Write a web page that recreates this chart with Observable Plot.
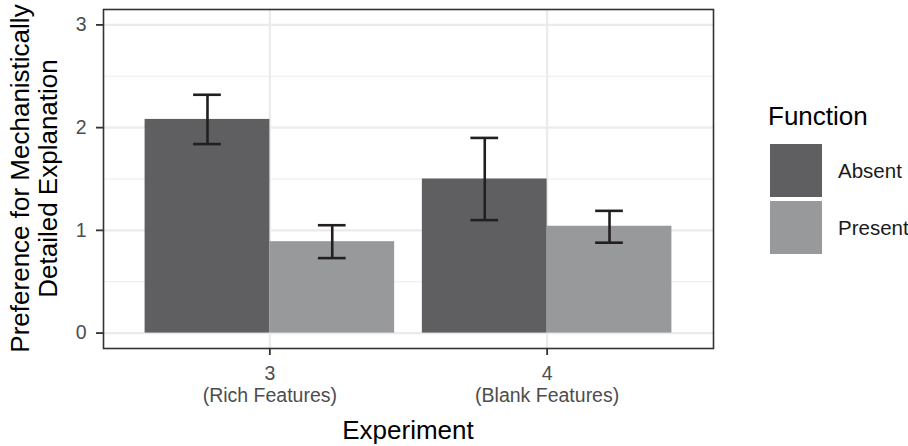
<!DOCTYPE html>
<html><head><meta charset="utf-8">
<script src="https://cdn.jsdelivr.net/npm/d3@7"></script>
<script src="https://cdn.jsdelivr.net/npm/@observablehq/plot@0.6"></script>
<style>body{margin:0;background:#fff} svg{display:block}</style>
</head><body><div id="chart"></div>
<script>
const experiments = [3, 3, 4, 4];
const functions = ["Absent", "Present", "Absent", "Present"];
const means = [2.08, 0.89, 1.50, 1.04];
const lower = [1.84, 0.73, 1.10, 0.88];
const upper = [2.32, 1.05, 1.90, 1.19];
const xTicks = [3, 4];
const xTickLabels = ["3\n(Rich Features)", "4\n(Blank Features)"];
const yTicks = [0, 1, 2, 3];
const yMinor = [0.5, 1.5, 2.5];
const funcLevels = ["Absent", "Present"];
const funcColors = ["#5f5f61", "#98999b"];
const xTitle = "Experiment";
const yTitleLines = ["Preference for Mechanistically", "Detailed Explanation"];
const legendTitle = "Function";

const half = 0.45, cap = 0.05;
const data = experiments.map((e, i) => {
  const x1 = e + (functions[i] === "Absent" ? -half : 0);
  return {exp: e, fn: functions[i], mean: means[i], lo: lower[i], hi: upper[i],
    x1, x2: x1 + half, xc: x1 + half / 2, c1: x1 + half / 2 - cap, c2: x1 + half / 2 + cap};
});
const font = "'Liberation Sans', Arial, Helvetica, sans-serif";
const ebColor = "#231f20";

const plot = Plot.plot({
  width: 908, height: 446,
  marginLeft: 103, marginRight: 195, marginTop: 9, marginBottom: 98,
  style: {fontFamily: font, background: "#fff", overflow: "visible"},
  x: {type: "linear", domain: [2.4, 4.6]},
  y: {domain: [-0.15, 3.15]},
  color: {domain: funcLevels, range: funcColors},
  marks: [
    Plot.gridY(yMinor, {stroke: "#ebebeb", strokeOpacity: 1, strokeWidth: 1.1}),
    Plot.gridY(yTicks, {stroke: "#ebebeb", strokeOpacity: 1, strokeWidth: 2.2}),
    Plot.gridX(xTicks, {stroke: "#ebebeb", strokeOpacity: 1, strokeWidth: 2.2}),
    Plot.rectY(data, {x1: "x1", x2: "x2", y1: 0, y2: "mean", fill: "fn"}),
    Plot.ruleX(data, {x: "xc", y1: "lo", y2: "hi", stroke: ebColor, strokeWidth: 2.6}),
    Plot.ruleY(data, {y: "lo", x1: "c1", x2: "c2", stroke: ebColor, strokeWidth: 2.6}),
    Plot.ruleY(data, {y: "hi", x1: "c1", x2: "c2", stroke: ebColor, strokeWidth: 2.6}),
    Plot.frame({stroke: "#333", strokeWidth: 1.6}),
    Plot.axisY(yTicks, {tickSize: 7, tickPadding: 10, fontSize: 19.5, tickFormat: d => String(d),
      fill: "#4d4d4d", stroke: "#333", strokeWidth: 1.8, label: null}),
    Plot.axisX(xTicks, {tickSize: 7, tickPadding: 9, fontSize: 19.5, lineHeight: 1.13,
      tickFormat: d => xTickLabels[xTicks.indexOf(d)], fill: "#4d4d4d", stroke: "#333", strokeWidth: 1.8, label: null})
  ]
});

const svg = d3.select(plot);
// y title
const yt = svg.append("g").attr("font-family", font).attr("font-size", 26).attr("fill", "#000").attr("text-anchor", "middle");
[29, 57].forEach((bx, i) => {
  yt.append("text").attr("transform", `translate(${bx},178.5) rotate(-90)`).text(yTitleLines[i]);
});
// x title
svg.append("text").attr("x", 408).attr("y", 439).attr("text-anchor", "middle")
  .attr("font-family", font).attr("font-size", 26).attr("fill", "#000").text(xTitle);
// legend
const lg = svg.append("g").attr("font-family", font).attr("text-anchor", "start");
lg.append("text").attr("x", 768).attr("y", 125).attr("font-size", 26).attr("fill", "#000").text(legendTitle);
funcLevels.forEach((f, i) => {
  const y0 = 144 + i * 57;
  lg.append("rect").attr("x", 770).attr("y", y0).attr("width", 52).attr("height", 53).attr("fill", funcColors[i]);
  lg.append("text").attr("x", 838).attr("y", y0 + 34).attr("font-size", 20.5).attr("fill", "#1a1a1a").text(f);
});
document.getElementById("chart").appendChild(plot);
</script>
</body></html>
